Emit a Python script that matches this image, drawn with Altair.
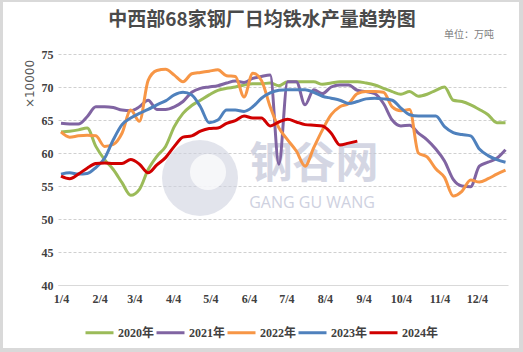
import altair as alt
import pandas as pd

years = ["2020年", "2021年", "2022年", "2023年", "2024年"]
colors = ["#9BBB59", "#8064A2", "#F79646", "#4F81BD", "#D00000"]

tick_days = [3, 34, 62, 93, 123, 154, 184, 215, 246, 276, 307, 337]
tick_labels = ["1/4", "2/4", "3/4", "4/4", "5/4", "6/4", "7/4", "8/4", "9/4", "10/4", "11/4", "12/4"]
y_ticks = [40, 45, 50, 55, 60, 65, 70, 75]

# weekly observations, day of year (Jan 4 = day 3)
week_days = [3 + 7 * i for i in range(52)]

v2020 = [63.2, 63.3, 63.5, 63.8, 61.0, 59.0, 57.5, 55.5, 53.6, 54.5,
         57.5, 59.5, 61.0, 64.0, 66.0, 67.2, 68.0, 68.8, 69.5, 69.8,
         70.0, 70.3, 70.5, 70.5, 70.6, 70.2, 70.8, 70.8, 70.8, 70.8,
         70.4, 70.6, 70.8, 70.8, 70.8, 70.6, 70.3, 69.8, 69.3, 68.9,
         69.3, 68.6, 68.9, 69.5, 70.0, 68.0, 67.8, 67.3, 66.6, 65.8,
         64.6, 64.6]
v2021 = [64.5, 64.4, 64.4, 65.5, 67.0, 67.0, 66.9, 66.5, 66.4, 67.0,
         68.0, 66.6, 66.6, 67.0, 67.8, 69.2, 69.8, 70.0, 70.2, 70.6,
         70.9, 70.7, 71.3, 71.6, 71.8, 58.3, 70.8, 70.8, 67.3, 69.6,
         69.0, 70.0, 70.3, 70.3, 69.5, 69.3, 69.0, 67.5, 65.0, 64.1,
         64.2, 63.0, 62.0, 60.6, 58.8, 56.0, 55.0, 54.9, 58.0, 58.6,
         59.2, 60.5]
v2022 = [63.2, 62.4, 62.6, 62.7, 62.6, 61.0, 61.3, 63.0, 66.5, 64.8,
         71.0, 72.5, 72.7, 71.8, 70.8, 72.0, 72.2, 72.4, 72.6, 71.7,
         71.6, 68.5, 72.1, 71.0, 67.0, 63.8, 62.0, 60.3, 58.0, 60.8,
         63.5, 65.8, 67.0, 67.5, 69.0, 69.3, 69.3, 69.2, 67.0, 66.4,
         66.6, 60.0, 59.4, 57.6, 56.3, 53.5, 54.2, 55.9, 55.6, 56.1,
         56.8, 57.4]
v2023 = [56.8, 57.0, 56.8, 56.9, 57.8, 59.2, 62.0, 64.3, 65.3, 66.0,
         66.6, 67.3, 67.9, 68.8, 69.2, 68.8, 67.0, 64.6, 65.0, 66.5,
         66.5, 66.3, 67.0, 68.3, 69.1, 69.5, 69.6, 69.6, 69.6, 69.2,
         68.6, 68.3, 68.0, 67.5, 67.8, 68.2, 68.3, 68.2, 68.0, 66.8,
         65.8, 65.6, 65.6, 65.6, 64.0, 63.1, 62.8, 62.6, 60.6, 59.6,
         59.0, 58.6]
v2024 = [56.5, 56.1, 56.8, 57.7, 58.4, 58.5, 58.4, 58.4, 59.0, 58.3,
         57.0, 58.2, 59.3, 61.0, 62.4, 62.6, 63.3, 63.7, 63.8, 64.5,
         64.9, 65.6, 65.3, 65.3, 64.1, 64.7, 65.1, 64.7, 64.3, 64.2,
         64.1, 63.0, 61.2, 61.5, 61.8]

series = [v2020, v2021, v2022, v2023, v2024]
rows = []
for yr, vals in zip(years, series):
    for d, v in zip(week_days, vals):
        rows.append({"year": yr, "day": d, "value": v})
df = pd.DataFrame(rows)
one = pd.DataFrame({"a": [0]})

label_expr = ("[" + ",".join("'%s'" % l for l in tick_labels) + "][indexof(["
              + ",".join(str(d) for d in tick_days) + "], datum.value)]")

LAB_FONT = "Liberation Serif, Noto Sans CJK SC"
FRAME = "#d9d9d9"

# grey frame bands around the white card
f_left = alt.Chart(one).mark_rect(color=FRAME).encode(
    x=alt.value(-58), x2=alt.value(-55), y=alt.value(-54), y2=alt.value(298))
f_top = alt.Chart(one).mark_rect(color=FRAME).encode(
    x=alt.value(-58), x2=alt.value(465), y=alt.value(-54), y2=alt.value(-52))
f_right = alt.Chart(one).mark_rect(color=FRAME).encode(
    x=alt.value(461), x2=alt.value(465), y=alt.value(-54), y2=alt.value(298))
f_bottom = alt.Chart(one).mark_rect(color=FRAME).encode(
    x=alt.value(-58), x2=alt.value(465), y=alt.value(294), y2=alt.value(298))

logo = alt.Chart(one).mark_point(filled=True, shape="circle", color="#cfd2e0", opacity=0.6, size=5776).encode(
    x=alt.value(142), y=alt.value(124)
)
logo_in = alt.Chart(one).mark_point(filled=True, shape="circle", color="#ffffff", opacity=0.7, size=1300).encode(
    x=alt.value(150), y=alt.value(118)
)
wm1 = alt.Chart(one).mark_text(text="钢谷网", font="Noto Sans CJK SC", fontSize=43, fontWeight="bold",
                               color="#c3c6d8", opacity=0.7).encode(x=alt.value(256), y=alt.value(111))
wm2 = alt.Chart(one).mark_text(text="GANG GU WANG", font="Open Sans", fontSize=16,
                               color="#c3c6d8", opacity=0.8).encode(x=alt.value(254), y=alt.value(149))

lines = alt.Chart(df).mark_line(strokeWidth=3, interpolate="monotone").encode(
    x=alt.X("day:Q",
            scale=alt.Scale(domain=[0.6, 362], nice=False, zero=False),
            axis=alt.Axis(values=tick_days, labelExpr=label_expr, title=None, grid=False,
                          ticks=False, domainColor="#d9d9d9", labelFont=LAB_FONT,
                          labelFontSize=12, labelFontWeight="bold", labelColor="#404040",
                          labelPadding=8)),
    y=alt.Y("value:Q",
            scale=alt.Scale(domain=[40, 75], nice=False, zero=False),
            axis=alt.Axis(values=y_ticks, title=None, domain=False, ticks=False, grid=True,
                          gridDash=[3, 2], gridColor="#d0d0d0", labelFont=LAB_FONT,
                          labelFontSize=12, labelFontWeight="bold", labelColor="#404040",
                          labelPadding=5)),
    color=alt.Color("year:N", scale=alt.Scale(domain=years, range=colors),
                    legend=alt.Legend(title=None, orient="none", direction="horizontal",
                                      legendX=26, legendY=263, symbolType="stroke",
                                      symbolStrokeWidth=3, symbolSize=784,
                                      labelFont=LAB_FONT, labelFontSize=12,
                                      labelFontWeight="bold", labelColor="#404040",
                                      labelOffset=3, columnPadding=-6)),
)

title = alt.Chart(one).mark_text(text="中西部68家钢厂日均铁水产量趋势图", font="Noto Sans CJK SC",
                                 fontSize=19, fontWeight="bold", color="#4a4a4a").encode(
    x=alt.value(204), y=alt.value(-34))
unit = alt.Chart(one).mark_text(text="单位：万吨", font="Noto Sans CJK SC", fontSize=10,
                                color="#7f7f7f").encode(x=alt.value(411), y=alt.value(-19))
mult = alt.Chart(one).mark_text(text="×10000", font="DejaVu Sans", fontSize=12, angle=270,
                                color="#595959").encode(x=alt.value(-28), y=alt.value(30))

chart = alt.layer(f_left, f_top, f_right, f_bottom, logo, logo_in, wm1, wm2, lines,
                  title, unit, mult).properties(
    width=450, height=231,
    padding={"left": 58, "top": 54, "right": 15, "bottom": 67},
    autosize="none",
    background="white",
).configure_view(stroke=None)

chart.save("out.html", embed_options={"renderer": "svg", "actions": False})
